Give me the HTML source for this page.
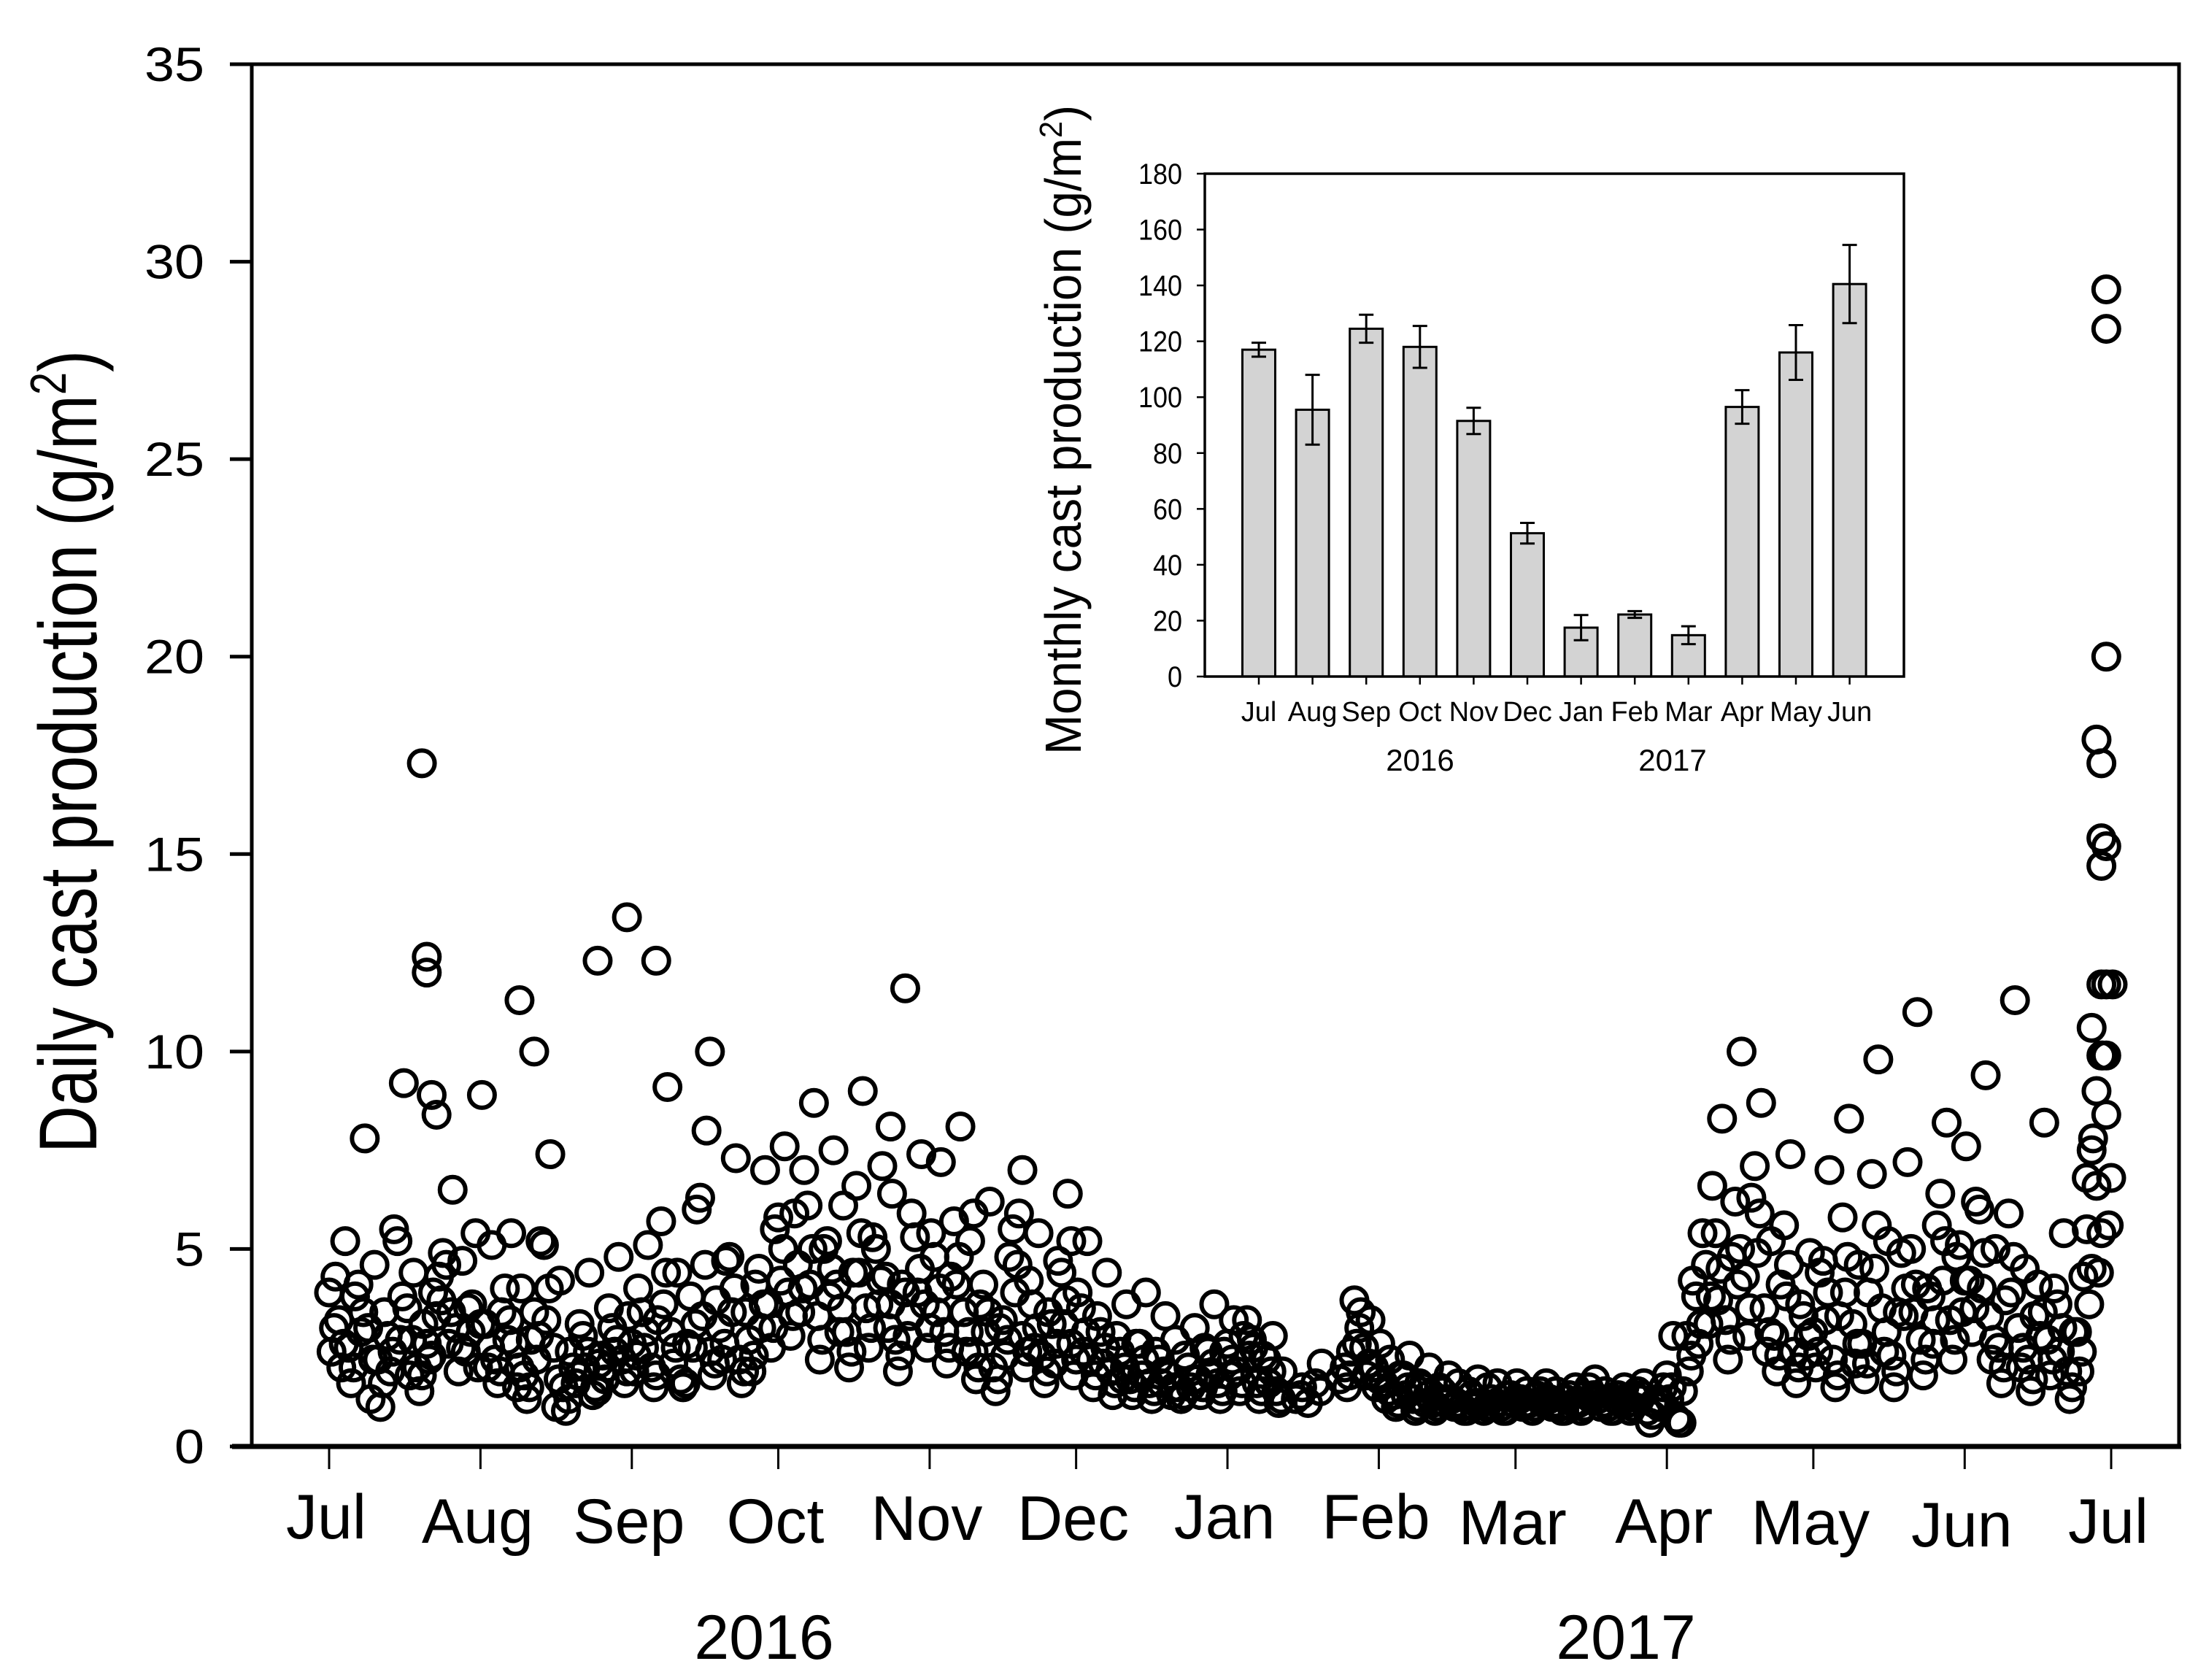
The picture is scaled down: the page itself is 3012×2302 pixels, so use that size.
<!DOCTYPE html>
<html><head><meta charset="utf-8"><style>
html,body{margin:0;padding:0;background:#fff}
svg{display:block}
text{font-family:"Liberation Sans",Arial,sans-serif;fill:#000}
</style></head><body>
<svg id="chart" width="3012" height="2302" viewBox="0 0 3012 2302" xmlns="http://www.w3.org/2000/svg">
<g id="main"></g>
<g id="inset"></g>
</svg>
<script>
// ---------- main scatter data (value every 2 days from 1 Jul 2016, replicate series) ----------
const repA = [3.9,3.2,2.5,4.1,3.0,2.2,2.8,5.2,3.5,2.0,2.6,3.3,4.6,3.0,2.4,5.4,
3.1,2.2,4.0,2.6,1.8,3.4,5.1,2.5,1.5,2.0,2.8,1.3,2.3,3.0,2.2,
2.6,3.4,2.0,5.7,2.9,1.7,3.8,6.3,2.4,3.0,4.8,2.2,2.7,4.5,3.6,
5.8,3.9,4.6,6.1,3.3,5.2,4.1,2.9,6.6,3.5,5.0,4.3,2.7,3.9,5.3,
3.6,4.8,2.9,5.7,3.4,2.4,4.1,2.0,3.2,5.5,2.8,3.6,2.3,3.1,4.4,
2.6,3.5,2.2,2.9,1.9,2.4,1.7,2.6,1.6,2.2,1.8,1.5,2.0,1.7,2.4,1.6,
2.6,1.9,3.2,1.6,2.2,1.4,null,1.2,null,1.6,null,null,2.0,3.7,2.5,
2.0,1.6,1.3,1.8,1.2,1.5,1.1,1.4,1.2,1.0,1.3,1.1,1.2,1.0,1.3,
1.2,1.1,1.4,1.2,1.0,1.3,1.1,1.5,1.2,1.0,1.3,1.1,1.4,0.9,1.2,
1.8,0.7,2.8,3.8,4.6,5.4,3.2,6.2,4.3,7.1,3.5,2.8,5.6,2.4,3.3,
2.9,4.7,2.2,5.8,3.1,2.6,6.9,3.5,2.3,4.9,5.0,2.7,3.8,6.4,3.2,
5.1,4.2,6.0,3.3,2.5,5.9,3.0,2.2,4.1,2.7,3.6,1.9,2.9,5.5,6.6,8.4];
const repB = [2.4,2.0,1.6,2.9,1.2,1.0,1.9,2.7,1.8,1.4,2.2,4.3,2.6,1.9,3.5,2.0,
2.0,1.6,2.7,1.5,1.2,2.2,3.2,1.0,0.9,1.6,2.0,1.5,1.7,2.4,1.6,
1.9,2.5,1.5,3.6,2.1,1.5,2.5,3.3,1.8,2.2,3.4,1.6,1.9,3.0,2.5,
4.2,2.8,3.4,4.1,2.2,3.8,2.9,2.0,4.4,2.5,3.6,3.0,1.9,2.8,3.9,
2.5,3.4,2.1,4.1,2.4,1.7,2.9,1.4,2.3,3.9,2.0,2.5,1.6,2.1,3.1,
1.8,2.4,1.5,2.1,1.3,1.7,1.3,1.8,1.2,1.6,1.3,1.2,1.5,1.3,1.8,1.2,
1.8,1.4,2.3,1.2,1.6,1.1,null,null,1.1,null,null,null,1.5,2.6,1.8,
1.5,1.2,1.0,1.3,0.9,1.1,0.9,1.1,1.0,0.9,1.0,0.9,1.0,0.9,1.1,
1.0,0.9,1.1,1.0,0.9,1.0,0.9,1.2,1.0,0.9,1.1,0.9,1.2,0.6,1.0,
1.2,0.6,1.9,2.6,3.1,3.7,2.2,4.1,2.8,4.9,2.4,1.9,3.8,1.6,2.3,
2.0,3.2,1.5,3.9,2.1,1.7,4.5,2.4,1.5,3.3,3.4,1.8,2.6,4.2,2.2,
3.4,2.9,4.0,2.2,1.6,3.9,2.0,1.4,2.8,1.8,2.4,1.2,1.9,3.6,4.4,5.6];
const repC = [4.3,5.2,3.8,7.8,4.6,3.4,5.5,9.2,4.4,3.1,3.9,4.9,6.5,4.7,3.6,8.9,
5.1,3.4,5.4,4.0,2.7,5.2,7.4,4.2,2.4,3.1,4.4,2.1,3.5,4.8,3.3,
4.0,5.1,3.2,9.1,4.4,2.6,6.0,8.0,3.7,4.7,7.3,3.4,4.1,7.0,5.5,
7.6,5.9,7.0,8.7,5.0,7.5,6.1,4.4,9.0,5.3,7.1,6.4,4.1,5.9,7.4,
5.4,7.2,4.3,8.1,5.2,3.6,6.2,3.0,4.8,5.9,4.2,5.4,3.4,4.7,6.4,
3.9,5.2,3.3,4.4,2.8,3.6,2.6,3.9,2.4,3.3,2.7,2.3,3.0,2.5,3.6,2.4,
3.2,2.8,2.5,2.3,2.8,1.9,null,1.5,null,2.1,null,null,2.4,3.4,3.2,
2.6,2.2,1.8,2.3,1.6,2.0,1.5,1.8,1.6,1.4,1.7,1.5,1.6,1.3,1.6,
1.4,1.3,1.6,1.4,1.2,1.5,1.3,1.7,1.4,1.2,1.5,1.3,1.6,1.1,1.5,
2.8,1.4,4.2,5.4,6.6,8.3,4.8,10.0,6.3,8.7,5.2,4.1,7.4,3.6,4.9,
4.4,7.0,3.3,8.3,4.6,3.9,9.8,5.2,3.4,7.2,11.0,4.0,5.6,8.2,4.8,
7.6,6.2,9.4,5.0,3.7,11.3,4.5,3.3,8.2,4.0,5.4,2.9,4.3,7.8,9.9,11.7];
const repD = [3.0,2.6,2.0,3.4,2.2,1.6,2.4,3.8,2.7,1.8,2.3,3.7,3.4,2.5,2.9,3.1,
2.5,1.9,3.2,2.0,1.5,2.8,4.0,1.7,1.2,1.8,2.4,1.4,2.0,2.7,1.9,
2.3,2.9,1.8,4.4,2.5,1.6,3.1,4.6,2.1,2.6,4.0,1.9,2.3,3.6,3.0,
5.0,3.3,4.0,5.0,2.7,4.5,3.5,2.4,5.4,3.0,4.2,3.6,2.3,3.3,4.5,
3.0,4.0,2.5,4.8,2.9,2.0,3.4,1.7,2.7,4.6,2.4,3.0,1.9,2.6,3.7,
2.2,2.9,1.8,2.5,1.6,2.0,1.5,2.2,1.4,1.9,1.5,1.3,1.7,1.5,2.1,1.4,
2.2,1.6,2.7,1.4,1.9,1.2,null,1.3,null,1.4,null,1.7,1.8,3.0,2.1,
1.7,1.4,1.1,1.5,1.0,1.3,1.0,1.2,1.1,0.9,1.1,1.0,1.1,0.9,1.2,
1.1,1.0,1.2,1.1,0.9,1.1,1.0,1.3,1.1,0.9,1.2,1.0,1.3,0.8,1.1,
1.5,0.6,2.3,3.1,3.8,4.5,2.7,5.0,3.5,5.9,2.9,2.3,4.6,2.0,2.8,
2.4,3.9,1.8,4.8,2.6,2.1,5.6,2.9,1.9,4.0,4.1,2.2,3.2,5.2,2.7,
4.2,3.5,4.9,2.7,2.0,4.8,2.5,1.7,3.4,2.2,3.0,1.5,2.4,4.5,5.4,6.8];
const outlierDays = [19,20,20,21,22,39,42,55,61,67,78,115,118,132,142,152,364,364,364,362,363,363,364,363,363,364,361,364,363,362,360,361];
const outlierVals = [17.3,12.4,12.0,8.9,8.4,11.3,10,12.3,13.4,12.3,10,8.1,11.6,5.9,7.0,5.2,29.3,28.3,20,17.9,17.3,15.4,15.2,14.7,11.7,11.7,10.6,9.9,9.9,9.0,6.8,7.5];
const yTicks = [0,5,10,15,20,25,30,35];
const monthLabels = ['Jul','Aug','Sep','Oct','Nov','Dec','Jan','Feb','Mar','Apr','May','Jun','Jul'];
const monthStartDays = [0,31,62,92,123,153,184,215,243,274,304,335,365];

// ---------- inset data ----------
const insetMonths = ['Jul','Aug','Sep','Oct','Nov','Dec','Jan','Feb','Mar','Apr','May','Jun'];
const monthlyMeans = [117,95.5,124.5,118,91.5,51.3,17.5,22.2,14.8,96.5,116,140.5];
const monthlyErrors = [2.5,12.5,5,7.5,4.7,3.7,4.5,1.2,3.2,6,9.8,14];
const insetTicks = [0,20,40,60,80,100,120,140,160,180];

const NS='http://www.w3.org/2000/svg';
function mk(parent,tag,attrs,txt){const e=document.createElementNS(NS,tag);for(const k in attrs)e.setAttribute(k,attrs[k]);if(txt!==undefined)e.textContent=txt;parent.appendChild(e);return e;}

const L=345,R=2986,T=88,B=1982;
const xDay=d=>451+d*(2893-451)/365;
const yVal=v=>B-v*(B-T)/35;
const main=document.getElementById('main');

const pts=mk(main,'g',{fill:'none',stroke:'#000','stroke-width':6});


const offsets=[0,0.5,1.3,1];
[repA,repB,repC,repD].forEach((rep,ri)=>{
  rep.forEach((v,i)=>{
    if(v===null)return;
    const c=mk(pts,'circle',{cx:xDay(i*2+offsets[ri]),cy:yVal(v),r:17.5});
    
    
  });
});
outlierVals.forEach((v,i)=>{
  const c=mk(pts,'circle',{cx:xDay(outlierDays[i]),cy:yVal(v),r:17.5});
  
  
});

const fr=mk(main,'path',{d:`M${L},${B} L${L},${T} L${R},${T} L${R},${B}`,fill:'none',stroke:'#000','stroke-width':5});


const xa=mk(main,'line',{x1:318,y1:B,x2:R+3,y2:B,stroke:'#000','stroke-width':7});



yTicks.forEach(t=>{
  const y=yVal(t);
  const l=mk(main,'line',{x1:315,y1:y,x2:L,y2:y,stroke:'#000','stroke-width':5});
  
  
  const s=String(t);
  const tx=mk(main,'text',{x:280,y:y+23,'text-anchor':'end','font-size':66,textLength:41*s.length,lengthAdjust:'spacingAndGlyphs'},s);
  
  
});
const labelBase=[2108,2114,2114,2114,2110,2110,2108,2108,2116,2114,2116,2119,2114];
monthStartDays.forEach((d,i)=>{
  const x=xDay(d);
  const l=mk(main,'line',{x1:x,y1:B,x2:x,y2:2013,stroke:'#000','stroke-width':3});
  
  
  const tx=mk(main,'text',{x:x-4,y:labelBase[i],'text-anchor':'middle','font-size':86},monthLabels[i]);
  
  
});
const y1=mk(main,'text',{x:1047,y:2273,'text-anchor':'middle','font-size':86},'2016');


const y2=mk(main,'text',{x:2228,y:2273,'text-anchor':'middle','font-size':86},'2017');


const yt=mk(main,'text',{transform:'translate(132,1030) rotate(-90)','text-anchor':'middle','font-size':112,textLength:1100,lengthAdjust:'spacingAndGlyphs'});


yt.innerHTML='Daily cast production (g/m<tspan dy="-42" font-size="70">2</tspan><tspan dy="42">)</tspan>';

const IL=1651,IR=2609,IT=238,IB=927;
const iy=v=>IB-v*(IB-IT)/180;
const ix=i=>1725+i*73.6;
const inset=document.getElementById('inset');
monthlyMeans.forEach((m,i)=>{
  const r=mk(inset,'rect',{x:ix(i)-22.5,y:iy(m),width:45,height:IB-iy(m),fill:'#d3d3d3',stroke:'#000','stroke-width':3});
  
  
  const e=monthlyErrors[i],x=ix(i);
  const eb=mk(inset,'path',{d:`M${x},${iy(m+e)} L${x},${iy(m-e)} M${x-10},${iy(m+e)} L${x+10},${iy(m+e)} M${x-10},${iy(m-e)} L${x+10},${iy(m-e)}`,stroke:'#000','stroke-width':3,fill:'none'});
  
  
  const tk=mk(inset,'line',{x1:x,y1:IB,x2:x,y2:IB+11,stroke:'#000','stroke-width':2.5});
  
  
  const tl=mk(inset,'text',{x:x,y:988,'text-anchor':'middle','font-size':38},insetMonths[i]);
  
  
});
const ifr=mk(inset,'rect',{x:IL,y:IT,width:IR-IL,height:IB-IT,fill:'none',stroke:'#000','stroke-width':3.5});


insetTicks.forEach(t=>{
  const y=iy(t);
  const l=mk(inset,'line',{x1:1640,y1:y,x2:IL,y2:y,stroke:'#000','stroke-width':2.5});
  
  
  const s=String(t);
  const tx=mk(inset,'text',{x:1620,y:y+14,'text-anchor':'end','font-size':40,textLength:20*s.length,lengthAdjust:'spacingAndGlyphs'},s);
  
  
});
const iy1=mk(inset,'text',{x:1946,y:1056,'text-anchor':'middle','font-size':42},'2016');


const iy2=mk(inset,'text',{x:2292,y:1056,'text-anchor':'middle','font-size':42},'2017');


const it=mk(inset,'text',{transform:'translate(1481,589) rotate(-90)','text-anchor':'middle','font-size':70,textLength:890,lengthAdjust:'spacingAndGlyphs'});


it.innerHTML='Monthly cast production (g/m<tspan dy="-26" font-size="44">2</tspan><tspan dy="26">)</tspan>';
</script>
</body></html>
